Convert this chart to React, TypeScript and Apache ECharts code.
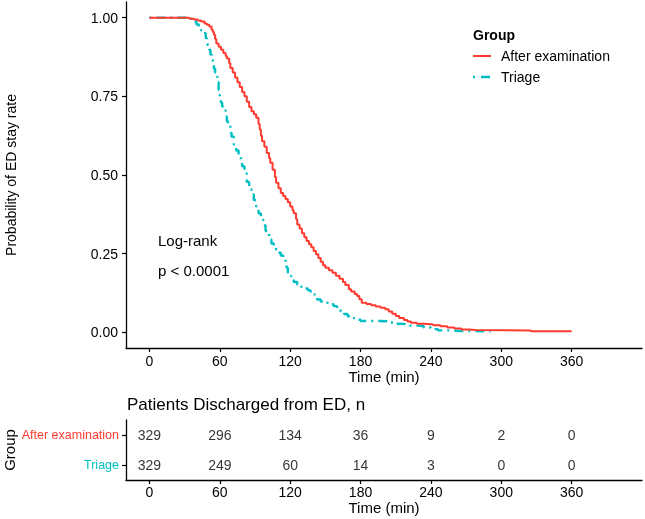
import React, { useEffect, useRef } from "react";
import * as echarts from "echarts";

// Kaplan-Meier curve: After examination (time in min, survival probability)
const afterTimes = [0, 30, 34, 38, 41, 44, 47, 49, 51, 53, 54, 55, 56, 57, 59, 61, 63, 65, 66, 68, 69, 71, 73, 75, 77, 79, 81, 83, 85, 87, 89, 91, 93, 94, 95, 96, 98, 100, 102, 103, 105, 107, 108, 110, 112, 114, 116, 118, 120, 122, 123, 125, 126, 128, 130, 132, 134, 136, 138, 140, 142, 144, 146, 148, 150, 153, 156, 159, 162, 165, 167, 170, 172, 175, 177, 179, 181, 185, 189, 193, 197, 201, 204, 207, 210, 213, 217, 220, 223, 228, 234, 242, 248, 254, 260, 266, 272, 278, 325, 360];
const afterSurv = [1.0, 1.0, 0.997, 0.994, 0.991, 0.988, 0.982, 0.978, 0.972, 0.962, 0.955, 0.946, 0.932, 0.918, 0.908, 0.898, 0.888, 0.878, 0.87, 0.855, 0.84, 0.826, 0.81, 0.795, 0.78, 0.764, 0.75, 0.733, 0.716, 0.703, 0.693, 0.682, 0.662, 0.645, 0.625, 0.607, 0.59, 0.57, 0.553, 0.539, 0.517, 0.494, 0.475, 0.458, 0.443, 0.433, 0.424, 0.413, 0.4, 0.388, 0.378, 0.36, 0.343, 0.33, 0.315, 0.302, 0.29, 0.28, 0.27, 0.258, 0.248, 0.236, 0.224, 0.213, 0.205, 0.197, 0.189, 0.18, 0.17, 0.16, 0.15, 0.137, 0.13, 0.122, 0.115, 0.105, 0.094, 0.09, 0.086, 0.082, 0.078, 0.073, 0.066, 0.059, 0.052, 0.045, 0.039, 0.034, 0.03, 0.027, 0.025, 0.022, 0.019, 0.015, 0.012, 0.009, 0.007, 0.006, 0.003, 0.003];

// Kaplan-Meier curve: Triage
const triageTimes = [0, 30, 34, 36, 38, 40, 42, 44, 46, 48, 49, 51, 52, 53, 54, 55, 56, 57, 58, 59, 60, 61, 62, 63, 65, 66, 67, 69, 70, 72, 74, 76, 78, 79, 81, 83, 85, 87, 89, 91, 93, 95, 97, 99, 102, 104, 106, 108, 110, 112, 114, 116, 117, 118, 119, 121, 123, 126, 129, 132, 135, 137, 139, 141, 143, 146, 149, 153, 157, 160, 163, 166, 169, 172, 176, 180, 190, 197, 203, 209, 214, 222, 229, 234, 240, 246, 255, 265, 291];
const triageSurv = [1.0, 1.0, 0.997, 0.994, 0.988, 0.979, 0.967, 0.96, 0.951, 0.935, 0.915, 0.898, 0.883, 0.868, 0.853, 0.838, 0.825, 0.812, 0.795, 0.77, 0.748, 0.73, 0.718, 0.705, 0.686, 0.671, 0.66, 0.634, 0.622, 0.597, 0.578, 0.557, 0.54, 0.528, 0.505, 0.478, 0.455, 0.438, 0.42, 0.4, 0.378, 0.358, 0.34, 0.322, 0.295, 0.282, 0.272, 0.262, 0.253, 0.244, 0.232, 0.221, 0.205, 0.19, 0.179, 0.168, 0.16, 0.152, 0.145, 0.139, 0.134, 0.13, 0.12, 0.111, 0.104, 0.098, 0.094, 0.089, 0.083, 0.075, 0.066, 0.058, 0.051, 0.045, 0.04, 0.036, 0.036, 0.035, 0.031, 0.027, 0.025, 0.021, 0.019, 0.015, 0.01, 0.006, 0.004, 0.003, 0.003];

// Risk table
const groups = ["Triage", "After examination"];
const riskTimes = [0, 60, 120, 180, 240, 300, 360];
const riskAfter = [329, 296, 134, 36, 9, 2, 0];
const riskTriage = [329, 249, 60, 14, 3, 0, 0];

const xTicks = [0, 60, 120, 180, 240, 300, 360];
const yTicks = [0, 0.25, 0.5, 0.75, 1.0];

const RED = "#FF3B30";
const TEAL = "#00BFC4";
const FONT = "'Liberation Sans', Arial, Helvetica, sans-serif";

export default function App() {
  const ref = useRef<HTMLDivElement>(null);
  useEffect(() => {
    if (!ref.current) return;
    const chart = echarts.init(ref.current, null, { renderer: "svg" });
    const axisLine = { show: true, onZero: false, lineStyle: { color: "#000", width: 1.3 } };
    const axisTick = { show: true, length: 4, lineStyle: { color: "#000", width: 1.2 } };
    const xAxisCommon = {
      type: "value",
      min: -20,
      max: 420,
      axisLine,
      splitLine: { show: false },
      axisTick: { ...axisTick, customValues: xTicks },
      name: "Time (min)",
      nameLocation: "middle",
      nameMoveOverlap: false,
      nameTextStyle: { color: "#000", fontSize: 15, fontFamily: FONT },
    };
    chart.setOption({
      animation: false,
      textStyle: { fontFamily: FONT },
      grid: [
        { left: 126, right: 3, top: 2, height: 346, outerBoundsMode: "none", containLabel: false },
        { left: 126, right: 3, top: 420, height: 60, outerBoundsMode: "none", containLabel: false },
      ],
      xAxis: [
        {
          ...xAxisCommon,
          gridIndex: 0,
          nameGap: 21,
          axisLabel: { customValues: xTicks, color: "#000", fontSize: 14, fontFamily: FONT, margin: 6 },
        },
        {
          ...xAxisCommon,
          gridIndex: 1,
          nameGap: 20,
          axisLabel: { customValues: xTicks, color: "#000", fontSize: 14, fontFamily: FONT, margin: 5 },
        },
      ],
      yAxis: [
        {
          type: "value",
          gridIndex: 0,
          min: -0.05,
          max: 1.05,
          axisLine,
          splitLine: { show: false },
          axisTick: { ...axisTick, customValues: yTicks },
          axisLabel: {
            customValues: yTicks,
            color: "#000",
            fontSize: 14,
            fontFamily: FONT,
            margin: 8,
            formatter: (v: number) => v.toFixed(2),
          },
          name: "Probability of ED stay rate",
          nameLocation: "middle",
          nameGap: 108,
          nameMoveOverlap: false,
          nameTextStyle: { color: "#000", fontSize: 14, fontFamily: FONT },
        },
        {
          type: "category",
          gridIndex: 1,
          data: groups,
          axisLine,
          axisTick: { ...axisTick, alignWithLabel: true },
          axisLabel: {
            margin: 7,
            fontSize: 12.5,
            fontFamily: FONT,
            formatter: (v: string) => (v === "Triage" ? `{t|${v}}` : `{r|${v}}`),
            rich: {
              t: { color: TEAL, fontSize: 12.5, fontFamily: FONT },
              r: { color: RED, fontSize: 12.5, fontFamily: FONT },
            },
          },
          name: "Group",
          nameLocation: "middle",
          nameGap: 109,
          nameMoveOverlap: false,
          nameTextStyle: { color: "#000", fontSize: 15, fontFamily: FONT },
        },
      ],
      series: [
        {
          name: "After examination",
          type: "line",
          xAxisIndex: 0,
          yAxisIndex: 0,
          step: "end",
          showSymbol: false,
          symbol: "none",
          data: afterTimes.map((t, i) => [t, afterSurv[i]]),
          lineStyle: { color: RED, width: 2 },
          z: 3,
        },
        {
          name: "Triage",
          type: "line",
          xAxisIndex: 0,
          yAxisIndex: 0,
          step: "end",
          showSymbol: false,
          symbol: "none",
          data: triageTimes.map((t, i) => [t, triageSurv[i]]),
          lineStyle: { color: TEAL, width: 2.4, type: [2, 5, 9, 5], cap: "butt" },
          z: 2,
        },
        {
          name: "riskAfter",
          type: "scatter",
          xAxisIndex: 1,
          yAxisIndex: 1,
          symbolSize: 1,
          itemStyle: { color: "rgba(0,0,0,0)" },
          data: riskTimes.map((t, i) => [t, "After examination", riskAfter[i]]),
          label: {
            show: true,
            position: "inside",
            formatter: (p: any) => String(p.value[2]),
            color: "#000",
            fontSize: 14,
            fontFamily: FONT,
          },
        },
        {
          name: "riskTriage",
          type: "scatter",
          xAxisIndex: 1,
          yAxisIndex: 1,
          symbolSize: 1,
          itemStyle: { color: "rgba(0,0,0,0)" },
          data: riskTimes.map((t, i) => [t, "Triage", riskTriage[i]]),
          label: {
            show: true,
            position: "inside",
            formatter: (p: any) => String(p.value[2]),
            color: "#000",
            fontSize: 14,
            fontFamily: FONT,
          },
        },
      ],
      graphic: [
        { type: "text", x: 473, y: 35, style: { text: "Group", fontSize: 14, fontWeight: "bold", fontFamily: FONT, fill: "#000", verticalAlign: "middle" } },
        { type: "line", shape: { x1: 473, y1: 56, x2: 491, y2: 56 }, style: { stroke: RED, lineWidth: 2 } },
        { type: "text", x: 501, y: 56, style: { text: "After examination", fontSize: 14, fontFamily: FONT, fill: "#000", verticalAlign: "middle" } },
        { type: "line", shape: { x1: 473, y1: 77, x2: 491, y2: 77 }, style: { stroke: TEAL, lineWidth: 2.4, lineDash: [2, 6, 9, 5] } },
        { type: "text", x: 501, y: 77, style: { text: "Triage", fontSize: 14, fontFamily: FONT, fill: "#000", verticalAlign: "middle" } },
        { type: "text", x: 158, y: 240, style: { text: "Log-rank", fontSize: 15, fontFamily: FONT, fill: "#000", verticalAlign: "middle" } },
        { type: "text", x: 158, y: 270, style: { text: "p < 0.0001", fontSize: 15, fontFamily: FONT, fill: "#000", verticalAlign: "middle" } },
        { type: "text", x: 127, y: 404, style: { text: "Patients Discharged from ED, n", fontSize: 17, fontFamily: FONT, fill: "#000", verticalAlign: "middle" } },
      ],
    });
    return () => chart.dispose();
  }, []);
  return <div ref={ref} style={{ position: "fixed", left: 0, top: 0, width: 645, height: 519 }} />;
}
